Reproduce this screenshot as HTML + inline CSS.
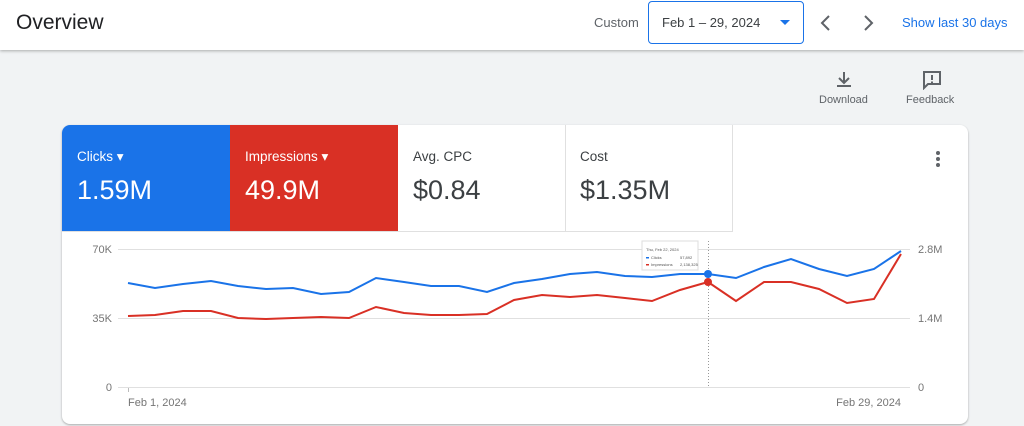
<!DOCTYPE html>
<html><head><style>
*{margin:0;padding:0;box-sizing:border-box}
body{width:1024px;height:426px;overflow:hidden;background:#f1f3f4;font-family:"Liberation Sans",Arial,sans-serif;position:relative}
.hdr{position:absolute;left:0;top:0;width:1024px;height:50px;background:#fff;box-shadow:0 1px 3px rgba(0,0,0,.3)}
.abs{position:absolute;white-space:nowrap}
.card{position:absolute;left:62px;top:125px;width:906px;height:299px;background:#fff;border-radius:8px;box-shadow:0 1px 2px rgba(0,0,0,.3);overflow:hidden}
.tile{position:absolute;top:0;height:106px;width:168px}
.tile .l{position:absolute;left:15px;top:24px;font-size:13.5px}
.tile .v{position:absolute;left:15px;top:50px;font-size:27px}
</style></head><body>
<div class="hdr">
<div class="abs" style="left:16px;top:11px;font-size:21px;color:#202124">Overview</div>
<div class="abs" style="left:594px;top:15px;font-size:13px;color:#5f6368">Custom</div>
<div class="abs" style="left:648px;top:1px;width:156px;height:43px;border:1px solid #1a73e8;border-radius:4px"></div>
<div class="abs" style="left:662px;top:15px;font-size:13px;color:#3c4043">Feb 1 – 29, 2024</div>
<div class="abs" style="left:780px;top:20px;width:0;height:0;border-left:5px solid transparent;border-right:5px solid transparent;border-top:5px solid #1a73e8"></div>
<svg class="abs" style="left:815px;top:12px" width="70" height="22"><path d="M14 4l-7 7 7 7" stroke="#5f6368" stroke-width="2" fill="none"/><path d="M50 4l7 7-7 7" stroke="#5f6368" stroke-width="2" fill="none"/></svg>
<div class="abs" style="left:902px;top:15px;font-size:13px;color:#1a73e8">Show last 30 days</div>
</div>
<svg class="abs" style="left:834px;top:70px" width="20" height="20"><path d="M10 2v10M5 8l5 5 5-5M3 16h14" stroke="#5f6368" stroke-width="2" fill="none"/></svg>
<div class="abs" style="left:819px;top:94px;font-size:11px;color:#5f6368">Download</div>
<svg class="abs" style="left:921px;top:70px" width="22" height="20"><path d="M3 2h16v12H7l-4 4z" stroke="#5f6368" stroke-width="2" fill="none"/><path d="M11 5v5M11 11.5v1.5" stroke="#5f6368" stroke-width="2"/></svg>
<div class="abs" style="left:906px;top:94px;font-size:11px;color:#5f6368">Feedback</div>
<div class="card">
<div class="tile" style="left:0;background:#1a73e8;color:#fff"><div class="l">Clicks ▾</div><div class="v">1.59M</div></div>
<div class="tile" style="left:168px;background:#d93025;color:#fff"><div class="l">Impressions ▾</div><div class="v">49.9M</div></div>
<div class="tile" style="left:336px;border-right:1px solid #e0e0e0;color:#3c4043"><div class="l">Avg. CPC</div><div class="v">$0.84</div></div>
<div class="tile" style="left:503px;border-right:1px solid #e0e0e0;color:#3c4043"><div class="l">Cost</div><div class="v">$1.35M</div></div>
<div class="abs" style="left:0;top:106px;width:671px;border-top:1px solid #e0e0e0"></div>
<div class="abs" style="left:874px;top:26px;width:4px;height:4px;background:#5f6368;border-radius:2px;box-shadow:0 6px 0 #5f6368,0 12px 0 #5f6368"></div>
</div>
<svg class="abs" style="left:0;top:0" width="1024" height="426">
<g stroke="#e0e0e0" stroke-width="1"><line x1="118" y1="249.5" x2="910" y2="249.5"/><line x1="118" y1="318.5" x2="910" y2="318.5"/><line x1="118" y1="387.5" x2="910" y2="387.5"/></g>
<line x1="128.5" y1="388" x2="128.5" y2="392" stroke="#bbb"/>
<g font-family="Liberation Sans,sans-serif" font-size="11" fill="#757575">
<text x="112" y="253" text-anchor="end">70K</text><text x="112" y="322" text-anchor="end">35K</text><text x="112" y="391" text-anchor="end">0</text>
<text x="918" y="253">2.8M</text><text x="918" y="322">1.4M</text><text x="918" y="391">0</text>
<text x="128" y="406">Feb 1, 2024</text><text x="901" y="406" text-anchor="end">Feb 29, 2024</text>
</g>
<line x1="708.5" y1="241" x2="708.5" y2="387" stroke="#999" stroke-dasharray="1,2"/>
<polyline fill="none" stroke="#1a73e8" stroke-width="2" points="128,283 155,288 183,284 211,281 238,286 266,289 293,288 321,294 349,292 376,278 404,282 431,286 459,286 487,292 514,283 542,279 570,274 597,272 625,276 652,277 680,274 708,274 736,278 764,267 791,259 819,269 847,276 874,269 901,251"/>
<polyline fill="none" stroke="#d93025" stroke-width="2" points="128,316 155,315 183,311 211,311 238,318 266,319 293,318 321,317 349,318 376,307 404,313 431,315 459,315 487,314 514,300 542,295 570,297 597,295 625,298 652,301 680,290 708,282 736,301 764,282 791,282 819,289 847,303 874,299 901,254"/>
<circle cx="708" cy="274" r="4" fill="#1a73e8"/><circle cx="708" cy="282" r="4" fill="#d93025"/>
<rect x="642" y="241" width="56" height="29" fill="#fff" stroke="#ddd"/>
<g font-family="Liberation Sans,sans-serif" font-size="4" fill="#555"><text x="646" y="251">Thu, Feb 22, 2024</text><text x="651" y="259">Clicks</text><text x="680" y="259">57,892</text><text x="651" y="266">Impressions</text><text x="680" y="266">2,138,325</text></g>
<rect x="646" y="257" width="3" height="1.5" fill="#1a73e8"/><rect x="646" y="264" width="3" height="1.5" fill="#d93025"/>
</svg>
</body></html>
